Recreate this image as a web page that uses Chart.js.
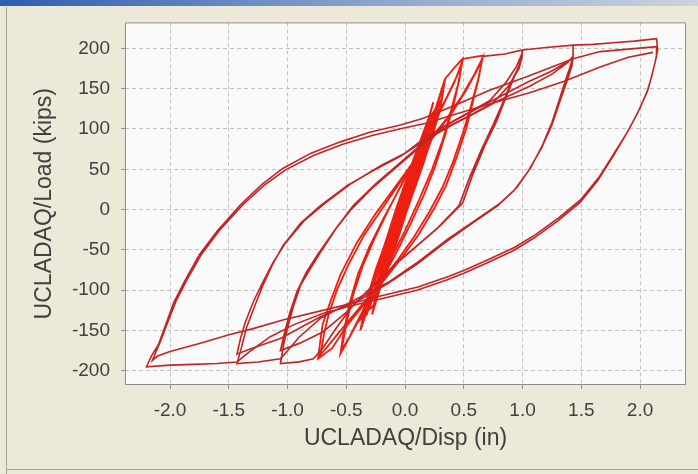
<!DOCTYPE html>
<html>
<head>
<meta charset="utf-8">
<title>UCLADAQ Load vs Disp</title>
<script src="https://cdn.jsdelivr.net/npm/chart.js@4.4.1/dist/chart.umd.min.js"></script>
<style>
  html, body { margin: 0; padding: 0; background: #ECE9D8; }
</style>
</head>
<body>
<canvas id="histeresis" width="698" height="474"></canvas>
<script>
// Marcas de los ejes
const xTicks = [-2.0, -1.5, -1.0, -0.5, 0.0, 0.5, 1.0, 1.5, 2.0];
const yTicks = [-200, -150, -100, -50, 0, 50, 100, 150, 200];
const xRange = [-2.383, 2.391];
const yRange = [-217.6, 232.2];

// Ciclos de carga [desplazamiento (in), carga (kips)]
// Ciclo de +/-2.15 in
const loop8 = [
  [1.43, 204], [1.60, 205], [1.77, 207], [1.95, 209], [2.14, 212],
  [2.15, 198], [2.13, 184], [2.10, 166], [2.06, 146], [1.98, 120], [1.88, 93], [1.77, 66], [1.64, 36], [1.49, 9],
  [1.30, -14], [1.10, -35], [0.92, -51], [0.70, -66], [0.50, -79], [0.36, -87], [0.10, -100], [-0.21, -111],
  [-0.45, -119], [-0.70, -129], [-0.95, -143], [-1.15, -158], [-1.32, -176], [-1.43, -189],
  [-1.60, -191], [-1.80, -192], [-2.00, -193], [-2.20, -195],
  [-2.16, -182], [-2.10, -168], [-2.04, -144], [-1.97, -116], [-1.88, -90], [-1.75, -56], [-1.60, -27], [-1.40, 6],
  [-1.22, 31], [-1.04, 51], [-0.80, 70], [-0.55, 84], [-0.30, 96], [-0.04, 105], [0.15, 113], [0.40, 128],
  [0.72, 148], [1.04, 165], [1.25, 177], [1.43, 187], [1.66, 196], [1.90, 199], [2.14, 202],
  [2.14, 190], [2.11, 172], [2.07, 150], [2.00, 126], [1.90, 98], [1.78, 70], [1.65, 40], [1.50, 13], [1.31, -10],
  [1.11, -31], [0.93, -47], [0.71, -62], [0.51, -75], [0.37, -83], [0.11, -96], [-0.20, -107], [-0.44, -116],
  [-0.70, -125], [-1.04, -137], [-1.30, -148], [-1.49, -155], [-1.75, -166], [-2.00, -176], [-2.11, -182], [-2.15, -187],
  [-2.13, -180], [-2.08, -163], [-2.02, -140], [-1.95, -114], [-1.86, -88], [-1.73, -55], [-1.58, -26], [-1.38, 6],
  [-1.20, 30], [-1.02, 49], [-0.78, 67], [-0.53, 81], [-0.28, 92], [-0.02, 101], [0.18, 107], [0.42, 118],
  [0.74, 132], [1.06, 145], [1.35, 159], [1.66, 177], [1.90, 189], [2.11, 195]
];

// Ciclo de +/-1.45 in
const loop7 = [
  [1.00, 198], [1.20, 201], [1.43, 204],
  [1.43, 190], [1.40, 175], [1.36, 158], [1.31, 135], [1.25, 108], [1.17, 80], [1.07, 52], [0.95, 27], [0.81, 8],
  [0.60, -13], [0.36, -37], [0.12, -64], [-0.13, -89], [-0.40, -110], [-0.72, -135], [-0.90, -158], [-1.00, -175],
  [-1.06, -185], [-1.25, -189], [-1.43, -191],
  [-1.39, -170], [-1.35, -147], [-1.28, -120], [-1.21, -94], [-1.13, -69], [-1.04, -45], [-0.89, -17], [-0.72, 5],
  [-0.49, 30], [-0.25, 50], [-0.04, 66], [0.15, 84], [0.40, 105], [0.72, 130], [1.06, 153], [1.25, 168],
  [1.38, 182], [1.43, 190],
  [1.42, 178], [1.38, 160], [1.32, 135], [1.25, 105], [1.16, 76], [1.05, 48], [0.93, 24], [0.79, 5], [0.58, -16],
  [0.34, -41], [0.10, -68], [-0.15, -92], [-0.40, -113], [-0.72, -133], [-1.06, -160], [-1.30, -172], [-1.43, -179],
  [-1.40, -160], [-1.36, -140], [-1.29, -114], [-1.21, -90], [-1.12, -65], [-1.02, -42], [-0.86, -14], [-0.68, 8],
  [-0.45, 33], [-0.20, 55], [0.00, 70], [0.18, 90], [0.42, 110], [0.74, 135], [1.04, 158], [1.25, 172], [1.40, 185]
];

// Ciclo de +/-1.0 in
const loop6 = [
  [0.66, 190], [0.85, 193], [1.00, 198],
  [0.98, 182], [0.93, 165], [0.86, 140], [0.78, 110], [0.68, 80], [0.58, 45], [0.49, 8], [0.30, -20], [0.10, -45],
  [-0.07, -66], [-0.25, -92], [-0.45, -120], [-0.60, -150], [-0.70, -172], [-0.78, -185], [-0.90, -189], [-1.06, -191],
  [-1.03, -165], [-1.00, -147], [-0.95, -120], [-0.89, -94], [-0.80, -72], [-0.72, -53], [-0.58, -22], [-0.44, 5],
  [-0.25, 32], [-0.05, 57], [0.15, 82], [0.30, 101], [0.50, 117], [0.72, 135], [0.86, 158], [0.95, 178], [1.00, 195],
  [0.97, 178], [0.91, 160], [0.84, 135], [0.75, 105], [0.65, 74], [0.55, 40], [0.46, 5], [0.27, -24], [0.07, -49],
  [-0.10, -70], [-0.28, -95], [-0.48, -125], [-0.70, -152], [-0.90, -166], [-1.06, -175],
  [-1.02, -150], [-0.98, -128], [-0.92, -102], [-0.84, -78], [-0.74, -55], [-0.60, -26], [-0.46, 0], [-0.27, 28],
  [-0.07, 53], [0.13, 78], [0.30, 98], [0.52, 114], [0.74, 131], [0.88, 153], [0.97, 175], [1.00, 192]
];

// Ciclo de +/-0.7 in
const loop5 = [
  [0.49, 187], [0.58, 189], [0.66, 191],
  [0.63, 165], [0.58, 135], [0.52, 100], [0.44, 65], [0.35, 30], [0.25, 2], [0.12, -30], [-0.02, -58],
  [-0.18, -88], [-0.35, -118], [-0.50, -145], [-0.62, -172], [-0.74, -185],
  [-0.72, -162], [-0.70, -142], [-0.63, -112], [-0.55, -81], [-0.41, -41], [-0.25, -5], [-0.10, 25], [0.05, 55],
  [0.20, 85], [0.35, 112], [0.48, 140], [0.58, 165], [0.66, 188],
  [0.62, 160], [0.56, 128], [0.49, 94], [0.41, 60], [0.32, 28], [0.21, -2], [0.08, -33], [-0.06, -62],
  [-0.22, -92], [-0.40, -124], [-0.56, -152], [-0.66, -170], [-0.72, -180],
  [-0.69, -155], [-0.65, -130], [-0.58, -100], [-0.48, -68], [-0.35, -32], [-0.20, 0], [-0.05, 32], [0.10, 62],
  [0.25, 92], [0.40, 120], [0.52, 148], [0.61, 172], [0.66, 186]
];

// Ciclo de +/-0.5 in
const loop4 = [
  [0.34, 162], [0.42, 176], [0.49, 187],
  [0.46, 160], [0.41, 128], [0.34, 92], [0.26, 55], [0.16, 18], [0.04, -20], [-0.09, -58], [-0.23, -95],
  [-0.36, -128], [-0.46, -155], [-0.55, -179],
  [-0.52, -150], [-0.47, -115], [-0.40, -80], [-0.30, -45], [-0.18, -10], [-0.05, 25], [0.08, 60], [0.20, 95],
  [0.32, 128], [0.42, 158], [0.49, 185],
  [0.45, 155], [0.39, 122], [0.32, 86], [0.23, 50], [0.12, 12], [0.00, -26], [-0.13, -64], [-0.26, -100],
  [-0.39, -134], [-0.48, -160], [-0.54, -174],
  [-0.50, -142], [-0.44, -105], [-0.36, -70], [-0.26, -36], [-0.14, 0], [-0.02, 34], [0.11, 70], [0.23, 104],
  [0.35, 138], [0.44, 165], [0.48, 180]
];

// Ciclo de +/-0.35 in
const loop3 = [
  [-0.38, -150], [-0.33, -115], [-0.25, -75], [-0.15, -35], [-0.05, 5], [0.06, 45], [0.16, 85], [0.26, 125], [0.34, 162],
  [0.30, 125], [0.22, 85], [0.12, 45], [0.01, 5], [-0.10, -35], [-0.20, -75], [-0.30, -115], [-0.38, -150],
  [-0.32, -112], [-0.24, -72], [-0.14, -32], [-0.04, 8], [0.07, 48], [0.17, 88], [0.27, 128], [0.33, 155]
];

// Ciclo de +/-0.25 in
const loop2 = [
  [-0.28, -130], [-0.22, -95], [-0.13, -50], [-0.04, -5], [0.06, 40], [0.15, 85], [0.24, 133],
  [0.17, 95], [0.08, 50], [-0.01, 5], [-0.10, -40], [-0.19, -85], [-0.28, -130]
];

// Ciclos elasticos pequenos (zona densa del centro)
const loop1 = [
  [-0.31, -122], [-0.17, -62], [-0.03, 2], [0.11, 60], [0.24, 116],
  [0.28, 118], [0.15, 60], [0.01, 2], [-0.13, -62], [-0.27, -120],
  [-0.36, -128], [-0.21, -62], [-0.07, 2], [0.07, 60], [0.20, 112],
  [0.26, 124], [0.13, 60], [-0.01, 2], [-0.15, -62], [-0.33, -130],
  [-0.38, -136], [-0.19, -62], [-0.05, 2], [0.09, 60], [0.22, 110],
  [0.29, 130], [0.16, 60], [0.02, 2], [-0.12, -62], [-0.26, -112]
];

const toPoints = arr => arr.map(p => ({ x: p[0], y: p[1] }));

const rojoOscuro = 'rgb(196,36,36)';
const rojoVivo = 'rgb(238,30,16)';

function serie(label, arr, color, ancho) {
  return {
    label: label,
    data: toPoints(arr),
    showLine: true,
    borderColor: color,
    backgroundColor: color,
    borderWidth: ancho,
    pointRadius: 0,
    tension: 0
  };
}

// Fondo de la ventana, area del grafico y marco
const marco = {
  id: 'marco',
  beforeDraw(chart) {
    const { ctx, chartArea: a, width, height } = chart;
    ctx.save();
    ctx.fillStyle = '#ECE9D8';
    ctx.fillRect(0, 0, width, height);
    const g = ctx.createLinearGradient(0, 0, width, 0);
    g.addColorStop(0, '#2D5DAE');
    g.addColorStop(0.55, '#8EA6CE');
    g.addColorStop(1, '#CBD3DF');
    ctx.fillStyle = g;
    ctx.fillRect(0, 0, width, 6);
    ctx.strokeStyle = '#A7A59A';
    ctx.lineWidth = 1;
    ctx.beginPath();
    ctx.moveTo(6.5, 7);
    ctx.lineTo(6.5, height);
    ctx.moveTo(6, height - 4.5);
    ctx.lineTo(width, height - 4.5);
    ctx.stroke();
    ctx.fillStyle = '#FAFAFA';
    ctx.fillRect(a.left, a.top, a.right - a.left, a.bottom - a.top);
    ctx.restore();
  },
  afterDatasetsDraw(chart) {
    const { ctx, chartArea: a } = chart;
    ctx.save();
    ctx.strokeStyle = '#8E8E8E';
    ctx.lineWidth = 1;
    ctx.strokeRect(a.left + 0.5, a.top + 0.5, a.right - a.left - 1, a.bottom - a.top - 1);
    ctx.restore();
  }
};

const fuenteTicks = { family: 'Liberation Sans, Arial, sans-serif', size: 19 };
const fuenteTitulo = { family: 'Liberation Sans, Arial, sans-serif', size: 23 };

new Chart(document.getElementById('histeresis'), {
  type: 'scatter',
  data: {
    datasets: [
      serie('loop8', loop8, rojoOscuro, 1.6),
      serie('loop7', loop7, rojoOscuro, 1.6),
      serie('loop6', loop6, rojoOscuro, 1.7),
      serie('loop5', loop5, rojoVivo, 1.8),
      serie('loop4', loop4, rojoVivo, 1.8),
      serie('loop3', loop3, rojoVivo, 2),
      serie('loop2', loop2, rojoVivo, 2),
      serie('loop1', loop1, rojoVivo, 2.6)
    ]
  },
  options: {
    responsive: false,
    animation: false,
    devicePixelRatio: 1,
    layout: { padding: { top: 15, right: 12, left: 0, bottom: 0 } },
    plugins: {
      legend: { display: false },
      tooltip: { enabled: false }
    },
    scales: {
      x: {
        type: 'linear',
        min: xRange[0],
        max: xRange[1],
        afterBuildTicks: s => { s.ticks = xTicks.map(v => ({ value: v })); },
        afterFit: s => { s.height = 89; },
        ticks: {
          color: '#404040',
          font: fuenteTicks,
          padding: 10,
          maxRotation: 0,
          callback: v => v.toFixed(1)
        },
        grid: {
          color: '#C2C2C2',
          lineWidth: 1,
          tickLength: 4,
          tickColor: '#8E8E8E',
          tickBorderDash: []
        },
        border: { display: false, dash: [4, 3] },
        title: {
          display: true,
          text: 'UCLADAQ/Disp (in)',
          color: '#404040',
          font: fuenteTitulo,
          padding: { top: 0, bottom: 22 }
        }
      },
      y: {
        type: 'linear',
        min: yRange[0],
        max: yRange[1],
        afterBuildTicks: s => { s.ticks = yTicks.map(v => ({ value: v })); },
        afterFit: s => { s.width = 125; },
        ticks: {
          color: '#404040',
          font: fuenteTicks,
          padding: 11,
          callback: v => String(v)
        },
        grid: {
          color: '#C2C2C2',
          lineWidth: 1,
          tickLength: 4,
          tickColor: '#8E8E8E',
          tickBorderDash: []
        },
        border: { display: false, dash: [4, 3] },
        title: {
          display: true,
          text: 'UCLADAQ/Load (kips)',
          color: '#404040',
          font: fuenteTitulo,
          padding: { top: 31, bottom: 0 }
        }
      }
    }
  },
  plugins: [marco]
});
</script>
</body>
</html>
